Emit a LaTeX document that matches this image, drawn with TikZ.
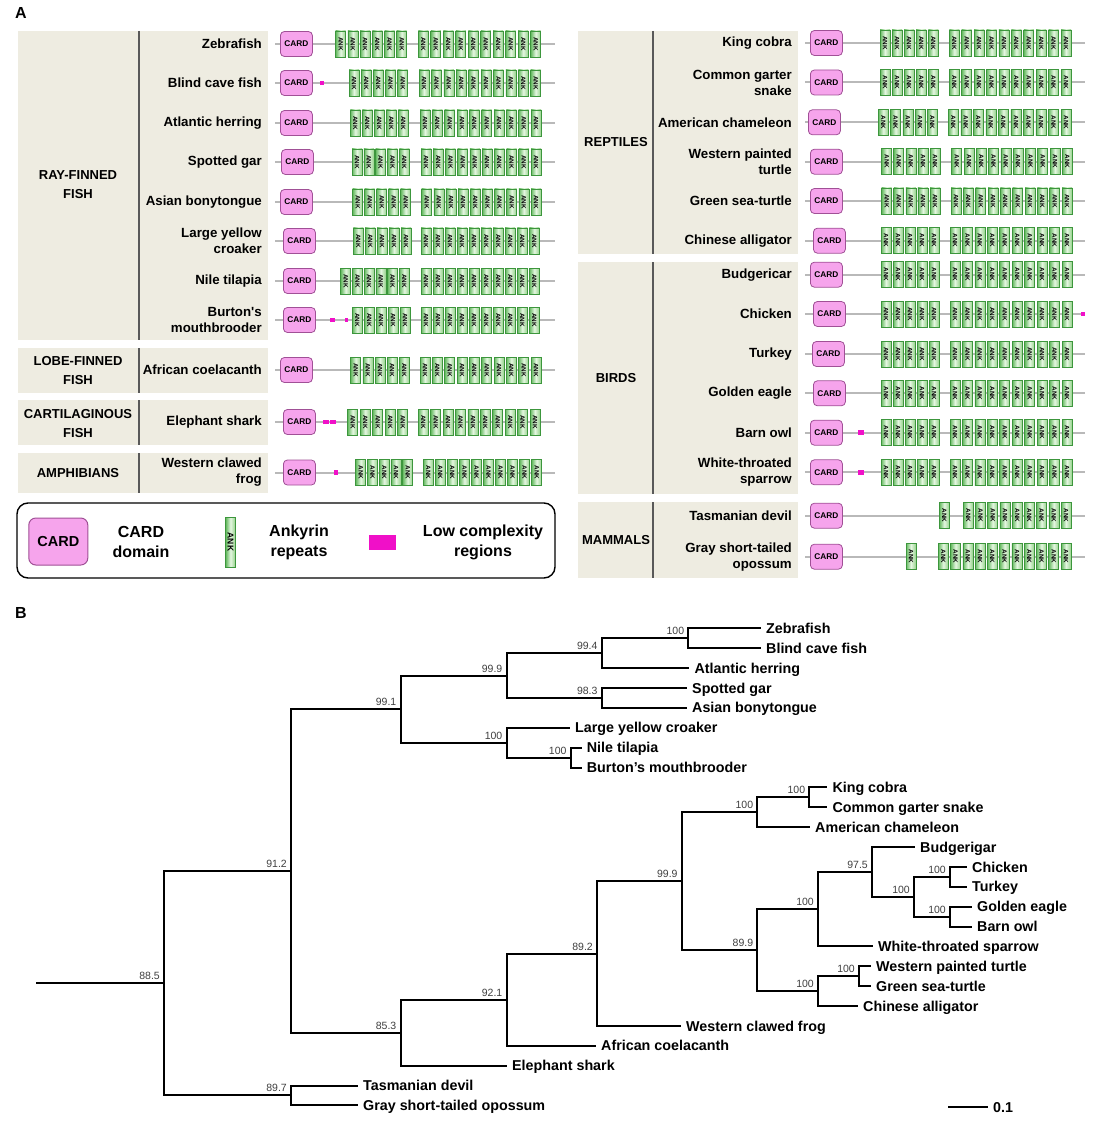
\documentclass[tikz,border=0pt]{standalone}
\usepackage{fontspec}
\usepackage{graphicx}
\setmainfont{Liberation Sans}
\definecolor{bgbeige}{RGB}{238,236,225}
\definecolor{divgray}{RGB}{89,89,89}
\definecolor{bbgray}{RGB}{185,185,185}
\definecolor{cardfill}{RGB}{246,164,236}
\definecolor{carddraw}{RGB}{160,80,150}
\definecolor{ankdark}{RGB}{100,185,95}
\definecolor{anklight}{RGB}{228,246,224}
\definecolor{ankmid}{RGB}{150,210,140}
\definecolor{ankdraw}{RGB}{60,150,60}
\definecolor{lcmag}{RGB}{240,16,200}
\definecolor{bootgray}{RGB}{64,64,64}
\tikzset{
  hdr/.style={inner sep=0pt,font=\fontsize{16}{18}\selectfont\bfseries},
  grp/.style={inner sep=0pt,align=center,font=\fontsize{13}{19}\selectfont\bfseries},
  sp/.style={inner sep=0pt,align=right,anchor=east,font=\fontsize{13.3}{16}\selectfont\bfseries},
  divider/.style={draw=divgray,line width=2pt},
  backbone/.style={draw=bbgray,line width=2pt},
  cardsm/.style={draw=carddraw,fill=cardfill,rounded corners=4pt,minimum width=32pt,minimum height=25pt,inner sep=0pt,line width=0.8pt,font=\fontsize{8.3}{9}\selectfont\bfseries},
  cardbig/.style={draw=carddraw,fill=cardfill,rounded corners=7pt,minimum width=59pt,minimum height=47pt,inner sep=0pt,line width=1pt,font=\fontsize{14.5}{16}\selectfont\bfseries},
  ankbox/.style={draw=ankdraw,left color=ankdark,right color=ankmid,middle color=anklight,minimum width=10pt,minimum height=26pt,inner sep=0pt,line width=0.6pt,font=\fontsize{6.3}{7}\selectfont\bfseries},
  ankbig/.style={draw=ankdraw,left color=ankdark,right color=ankmid,middle color=anklight,minimum width=9.5pt,minimum height=50pt,inner sep=0pt,line width=0.8pt,font=\fontsize{8.5}{9}\selectfont\bfseries},
  lcbox/.style={fill=lcmag,draw=none,minimum height=4.5pt,inner sep=0pt},
  legbox/.style={draw=black,line width=1.4pt,rounded corners=11pt,minimum width=538pt,minimum height=75pt,inner sep=0pt},
  legtxt/.style={inner sep=0pt,align=center,font=\fontsize{16}{20}\selectfont\bfseries},
  tree/.style={draw=black,line width=2pt},
  leaf/.style={inner xsep=5pt,inner ysep=0pt,text height=10.2pt,text depth=0pt,font=\fontsize{14.3}{16}\selectfont\bfseries},
  boot/.style={inner sep=0pt,text=bootgray,font=\fontsize{10.5}{12}\selectfont},
}
\newcommand\ankt{\rotatebox{-90}{ANK}}
\newcommand\bbl[4]{\coordinate (#1s) at (#2,#4); \coordinate (#1e) at (#3,#4); \draw[backbone] (#1s) -- (#1e);}
\newcommand\crd[3]{\node[cardsm,anchor=west] (#1) at (#2,#3) {CARD};}
\newcommand\ankg[5]{\foreach \k in {1,...,#5}{\pgfmathsetmacro\ax{#3+5+(\k-1)*(#4-#3)/(#5-1)}\node[ankbox] (#1-\k) at (\ax,#2) {\ankt};}}
\newcommand\anks[3]{\node[ankbox] (#1) at (#3+5,#2) {\ankt};}
\newcommand\lcb[4]{\node[lcbox,minimum width=#4pt,anchor=west] (#1) at (#2,#3) {};}
\newcommand\tn[4]{\coordinate (#1) at (#2,#3); \node[boot,anchor=base east] (#1l) at (#2-4,#3-3.5) {#4};}
\newcommand\lf[4]{\node[leaf,anchor=west] (#1) at (#2,#3) {#4};}
\begin{document}
\begin{tikzpicture}[x=1pt,y=-1pt]
\useasboundingbox (0,0) rectangle (1102,1123);
\fill[white] (0,0) rectangle (1102,1123);
\node[hdr,anchor=base west] (hA) at (15,19) {A};
\node[hdr,anchor=base west] (hB) at (15,618) {B};
% ---------- left background boxes
\fill[bgbeige] (18,31) rectangle (268,340);
\fill[bgbeige] (18,348) rectangle (268,393);
\fill[bgbeige] (18,400) rectangle (268,445);
\fill[bgbeige] (18,453) rectangle (268,493);
\draw[divider] (139,31) -- (139,340);
\draw[divider] (139,348) -- (139,393);
\draw[divider] (139,400) -- (139,445);
\draw[divider] (139,453) -- (139,493);
% ---------- right background boxes
\fill[bgbeige] (578,31) rectangle (798,254);
\fill[bgbeige] (578,262) rectangle (798,494);
\fill[bgbeige] (578,502) rectangle (798,578);
\draw[divider] (653,31) -- (653,254);
\draw[divider] (653,262) -- (653,494);
\draw[divider] (653,502) -- (653,578);
% ---------- group labels
\node[grp] (gRay) at (78,184.5) {RAY-FINNED\\FISH};
\node[grp] (gLob) at (78,371) {LOBE-FINNED\\FISH};
\node[grp] (gCar) at (78,423.5) {CARTILAGINOUS\\FISH};
\node[grp] (gAmp) at (78,473) {AMPHIBIANS};
\node[grp] (gRep) at (616,142) {REPTILES};
\node[grp] (gBir) at (616,378) {BIRDS};
\node[grp] (gMam) at (616,540) {MAMMALS};
% ---------- species labels (left)
\node[sp] (sL1) at (262,44) {Zebrafish};
\node[sp] (sL2) at (262,83) {Blind cave fish};
\node[sp] (sL3) at (262,123) {Atlantic herring};
\node[sp] (sL4) at (262,162) {Spotted gar};
\node[sp] (sL5) at (262,202) {Asian bonytongue};
\node[sp] (sL6) at (262,241) {Large yellow\\croaker};
\node[sp] (sL7) at (262,281) {Nile tilapia};
\node[sp] (sL8) at (262,320) {Burton\textquotesingle s\\mouthbrooder};
\node[sp] (sL9) at (262,370) {African coelacanth};
\node[sp] (sL10) at (262,422) {Elephant shark};
\node[sp] (sL11) at (262,472.5) {Western clawed\\frog};
% ---------- species labels (right)
\node[sp] (sR1) at (792,43) {King cobra};
\node[sp] (sR2) at (792,82.5) {Common garter\\snake};
\node[sp] (sR3) at (792,122.3) {American chameleon};
\node[sp] (sR4) at (792,161.7) {Western painted\\turtle};
\node[sp] (sR5) at (792,201) {Green sea-turtle};
\node[sp] (sR6) at (792,240.7) {Chinese alligator};
\node[sp] (sR7) at (792,274.7) {Budgericar};
\node[sp] (sR8) at (792,314) {Chicken};
\node[sp] (sR9) at (792,354) {Turkey};
\node[sp] (sR10) at (792,393.3) {Golden eagle};
\node[sp] (sR11) at (792,432.7) {Barn owl};
\node[sp] (sR12) at (792,472.3) {White-throated\\sparrow};
\node[sp] (sR13) at (792,515.7) {Tasmanian devil};
\node[sp] (sR14) at (792,556.7) {Gray short-tailed\\opossum};
% ---------- left domain rows
\bbl{bL1}{275}{555}{44} \crd{cL1}{280}{44} \ankg{aL1a}{44}{335.7}{396.7}{6} \ankg{aL1b}{44}{418.3}{530.7}{10}
\bbl{bL2}{275}{555}{83} \crd{cL2}{280}{83} \lcb{xL2a}{320}{83}{4} \ankg{aL2a}{83}{349}{397.7}{5} \ankg{aL2b}{83}{419}{530.7}{10}
\bbl{bL3}{275}{555}{123} \crd{cL3}{280}{123} \ankg{aL3a}{123}{350.3}{398.3}{5} \ankg{aL3b}{123}{420}{531}{10}
\bbl{bL4}{275}{555}{162} \crd{cL4}{281}{162} \ankg{aL4a}{162}{352}{399.3}{5} \ankg{aL4b}{162}{421}{531}{10}
\bbl{bL5}{275}{555}{202} \crd{cL5}{280}{202} \ankg{aL5a}{202}{352.7}{400.7}{5} \ankg{aL5b}{202}{421.7}{531}{10}
\bbl{bL6}{275}{555}{241} \crd{cL6}{283}{241} \ankg{aL6a}{241}{353.3}{401}{5} \ankg{aL6b}{241}{421}{529.3}{10}
\bbl{bL7}{275}{555}{281} \crd{cL7}{283}{281} \ankg{aL7a}{281}{340.7}{399.3}{6} \ankg{aL7b}{281}{421}{529.3}{10}
\bbl{bL8}{275}{555}{320} \crd{cL8}{283}{320} \lcb{xL8a}{330}{320}{5} \lcb{xL8b}{344.5}{320}{3.5} \ankg{aL8a}{320}{352.3}{400}{5} \ankg{aL8b}{320}{421}{529.3}{10}
\bbl{bL9}{275}{555}{370} \crd{cL9}{280}{370} \ankg{aL9a}{370}{350.7}{399.3}{5} \ankg{aL9b}{370}{420}{531}{10}
\bbl{bL10}{275}{555}{422} \crd{cL10}{283}{422} \lcb{xL10a}{322.7}{422}{5.6} \lcb{xL10b}{330}{422}{5.6} \ankg{aL10a}{422}{347.7}{397.7}{5} \ankg{aL10b}{422}{418.3}{530}{10}
\bbl{bL11}{275}{555}{472.5} \crd{cL11}{283}{472.5} \lcb{xL11a}{333.3}{472.5}{4.5} \ankg{aL11a}{472.5}{355.7}{402.7}{5} \ankg{aL11b}{472.5}{423.3}{531.7}{10}
% ---------- right domain rows
\bbl{bR1}{805}{1085}{43} \crd{cR1}{810}{43} \ankg{aR1a}{43}{880}{928.3}{5} \ankg{aR1b}{43}{949.3}{1061}{10}
\bbl{bR2}{805}{1085}{82.5} \crd{cR2}{810}{82.5} \ankg{aR2a}{82.5}{880}{928.3}{5} \ankg{aR2b}{82.5}{949.3}{1061}{10}
\bbl{bR3}{805}{1085}{122.3} \crd{cR3}{808}{122.3} \ankg{aR3a}{122.3}{878.3}{927.3}{5} \ankg{aR3b}{122.3}{948.3}{1061}{10}
\bbl{bR4}{805}{1085}{161.7} \crd{cR4}{810}{161.7} \ankg{aR4a}{161.7}{881.7}{930}{5} \ankg{aR4b}{161.7}{951.7}{1062.3}{10}
\bbl{bR5}{805}{1085}{201} \crd{cR5}{810}{201} \ankg{aR5a}{201}{881.7}{930}{5} \ankg{aR5b}{201}{951}{1062}{10}
\bbl{bR6}{805}{1085}{240.7} \crd{cR6}{813}{240.7} \ankg{aR6a}{240.7}{881}{929}{5} \ankg{aR6b}{240.7}{950}{1062}{10}
\bbl{bR7}{805}{1085}{274.7} \crd{cR7}{810}{274.7} \ankg{aR7a}{274.7}{881}{929}{5} \ankg{aR7b}{274.7}{950}{1062}{10}
\bbl{bR8}{805}{1082}{314} \crd{cR8}{813}{314} \ankg{aR8a}{314}{881}{929}{5} \ankg{aR8b}{314}{950}{1062}{10} \lcb{xR8a}{1080.5}{314}{4.5}
\bbl{bR9}{805}{1085}{354} \crd{cR9}{812}{354} \ankg{aR9a}{354}{881}{929}{5} \ankg{aR9b}{354}{950}{1062}{10}
\bbl{bR10}{805}{1085}{393.3} \crd{cR10}{813}{393.3} \ankg{aR10a}{393.3}{881}{929}{5} \ankg{aR10b}{393.3}{950}{1062}{10}
\bbl{bR11}{805}{1085}{432.7} \crd{cR11}{810}{432.7} \lcb{xR11a}{858}{432.7}{5.5} \ankg{aR11a}{432.7}{881}{929}{5} \ankg{aR11b}{432.7}{950}{1062}{10}
\bbl{bR12}{805}{1085}{472.3} \crd{cR12}{810}{472.3} \lcb{xR12a}{858}{472.3}{5.5} \ankg{aR12a}{472.3}{881}{929}{5} \ankg{aR12b}{472.3}{950}{1062}{10}
\bbl{bR13}{805}{1085}{515.7} \crd{cR13}{810}{515.7} \anks{aR13s}{515.7}{939.3} \ankg{aR13b}{515.7}{963.3}{1061}{9}
\bbl{bR14}{805}{1085}{556.7} \crd{cR14}{810}{556.7} \anks{aR14s}{556.7}{906} \ankg{aR14b}{556.7}{938.3}{1061}{11}
% ---------- legend
\node[legbox] (leg) at (286,540.5) {};
\node[cardbig] (lgC) at (58.3,541.5) {CARD};
\node[legtxt] (lgCt) at (141,542) {CARD\\domain};
\node[ankbig] (lgA) at (230.5,542) {\ankt};
\node[legtxt] (lgAt) at (299,542) {Ankyrin\\repeats};
\node[lcbox,minimum width=27pt,minimum height=15pt] (lgL) at (382.5,542) {};
\node[legtxt] (lgLt) at (483,542) {Low complexity\\regions};
% ---------- tree: internal nodes
\tn{nZB}{688.3}{638.25}{100}
\tn{nA}{601.7}{653.2}{99.4}
\tn{nB}{601.7}{697.85}{98.3}
\tn{nC}{506.5}{675.5}{99.9}
\tn{nTil}{570.7}{757.55}{100}
\tn{nCro}{506.5}{742.6}{100}
\tn{nD}{400.5}{709.05}{99.1}
\tn{nSnk}{809.3}{797.25}{100}
\tn{nSq}{757.3}{812.2}{100}
\tn{nCT}{950}{876.8}{100}
\tn{nGB}{950}{916.55}{100}
\tn{nG}{914}{896.7}{100}
\tn{nE}{872}{871.85}{97.5}
\tn{nBd}{818}{909.1}{100}
\tn{nTu}{859}{976.2}{100}
\tn{nTA}{818}{991.1}{100}
\tn{nF}{757.3}{950.1}{89.9}
\tn{nH}{681.7}{881.15}{99.9}
\tn{nI}{597}{953.5}{89.2}
\tn{nJ}{506.5}{999.65}{92.1}
\tn{nK}{400.5}{1032.7}{85.3}
\tn{nM}{291}{870.9}{91.2}
\tn{nN}{291}{1095.45}{89.7}
\tn{nR}{164}{983.2}{88.5}
\coordinate (root) at (36,983.2);
% ---------- tree: leaves
\lf{lZeb}{761}{628.3}{Zebrafish}
\lf{lBli}{761}{648.2}{Blind cave fish}
\lf{lAtl}{689.3}{668.1}{Atlantic herring}
\lf{lSpo}{687}{687.9}{Spotted gar}
\lf{lAsi}{687}{707.8}{Asian bonytongue}
\lf{lLar}{570}{727.7}{Large yellow croaker}
\lf{lNil}{581.7}{747.6}{Nile tilapia}
\lf{lBur}{581.7}{767.5}{Burton’s mouthbrooder}
\lf{lKin}{827.3}{787.3}{King cobra}
\lf{lCom}{827.3}{807.2}{Common garter snake}
\lf{lAme}{810}{827.1}{American chameleon}
\lf{lBud}{915}{847.0}{Budgerigar}
\lf{lChi}{967}{866.9}{Chicken}
\lf{lTur}{967}{886.7}{Turkey}
\lf{lGol}{972}{906.6}{Golden eagle}
\lf{lBar}{972}{926.5}{Barn owl}
\lf{lWhi}{873}{946.4}{White-throated sparrow}
\lf{lWes}{871}{966.3}{Western painted turtle}
\lf{lGre}{871}{986.1}{Green sea-turtle}
\lf{lChn}{858}{1006.0}{Chinese alligator}
\lf{lFro}{681}{1025.9}{Western clawed frog}
\lf{lCoe}{596}{1045.8}{African coelacanth}
\lf{lEle}{507}{1065.7}{Elephant shark}
\lf{lTas}{358}{1085.5}{Tasmanian devil}
\lf{lOpo}{358}{1105.4}{Gray short-tailed opossum}
% ---------- tree: edges
\draw[tree] (nZB) |- (lZeb.west) (nZB) |- (lBli.west);
\draw[tree] (nA) |- (nZB) (nA) |- (lAtl.west);
\draw[tree] (nB) |- (lSpo.west) (nB) |- (lAsi.west);
\draw[tree] (nC) |- (nA) (nC) |- (nB);
\draw[tree] (nTil) |- (lNil.west) (nTil) |- (lBur.west);
\draw[tree] (nCro) |- (lLar.west) (nCro) |- (nTil);
\draw[tree] (nD) |- (nC) (nD) |- (nCro);
\draw[tree] (nSnk) |- (lKin.west) (nSnk) |- (lCom.west);
\draw[tree] (nSq) |- (nSnk) (nSq) |- (lAme.west);
\draw[tree] (nCT) |- (lChi.west) (nCT) |- (lTur.west);
\draw[tree] (nGB) |- (lGol.west) (nGB) |- (lBar.west);
\draw[tree] (nG) |- (nCT) (nG) |- (nGB);
\draw[tree] (nE) |- (lBud.west) (nE) |- (nG);
\draw[tree] (nBd) |- (nE) (nBd) |- (lWhi.west);
\draw[tree] (nTu) |- (lWes.west) (nTu) |- (lGre.west);
\draw[tree] (nTA) |- (nTu) (nTA) |- (lChn.west);
\draw[tree] (nF) |- (nBd) (nF) |- (nTA);
\draw[tree] (nH) |- (nSq) (nH) |- (nF);
\draw[tree] (nI) |- (nH) (nI) |- (lFro.west);
\draw[tree] (nJ) |- (nI) (nJ) |- (lCoe.west);
\draw[tree] (nK) |- (nJ) (nK) |- (lEle.west);
\draw[tree] (nM) |- (nD) (nM) |- (nK);
\draw[tree] (nN) |- (lTas.west) (nN) |- (lOpo.west);
\draw[tree] (nR) |- (nM) (nR) |- (nN);
\draw[tree] (root) -- (nR);
% ---------- scale bar
\coordinate (sb1) at (948,1107);
\node[leaf,anchor=west] (sbl) at (988,1107) {0.1};
\draw[tree] (sb1) -- (sbl.west);
\end{tikzpicture}
\end{document}
